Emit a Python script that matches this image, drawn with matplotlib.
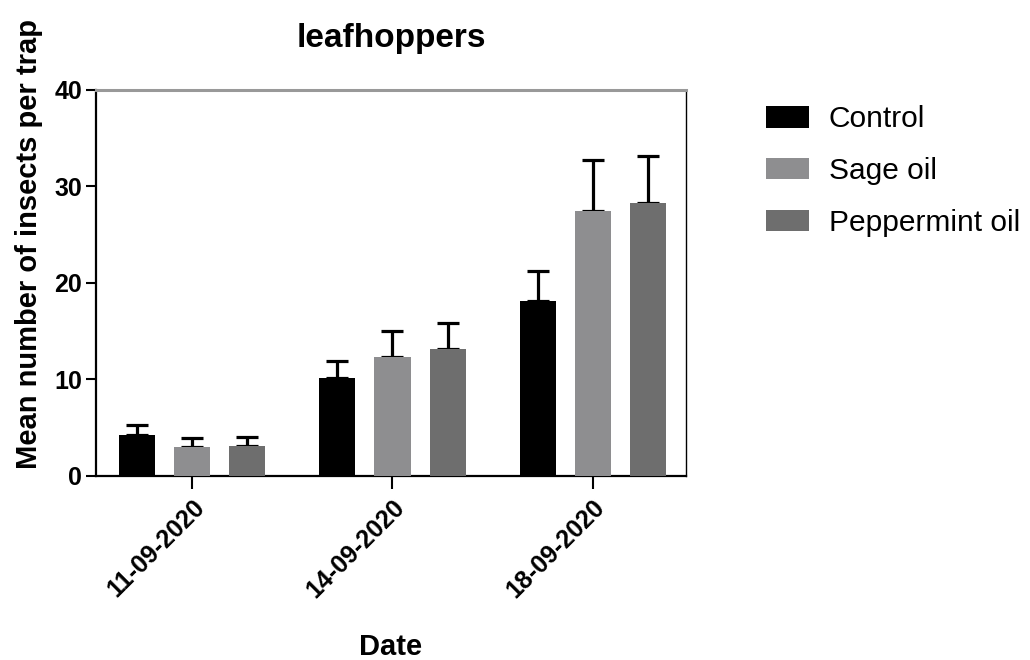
import matplotlib.pyplot as plt
import numpy as np

plt.rcParams['font.family'] = ['Liberation Sans', 'DejaVu Sans']

dates = ["11-09-2020", "14-09-2020", "18-09-2020"]
groups = ["Control", "Sage oil", "Peppermint oil"]
control = [4.2, 10.15, 18.1]
control_err = [1.05, 1.8, 3.1]
sage = [2.95, 12.3, 27.5]
sage_err = [1.0, 2.75, 5.25]
pepper = [3.1, 13.1, 28.3]
pepper_err = [0.95, 2.7, 4.9]
colors = ["#000000", "#8e8e90", "#6e6e6e"]

fig = plt.figure(figsize=(10.3, 6.6), dpi=100)
ax = fig.add_axes([0.0932, 0.279, 0.5728, 0.5848])

x = np.arange(len(dates))
step = 0.275
width = 0.18
series = [(control, control_err), (sage, sage_err), (pepper, pepper_err)]
for i, (vals, errs) in enumerate(series):
    pos = x + (i - 1) * step
    ax.bar(pos, vals, width, color=colors[i], label=groups[i], zorder=3)
    # only the upper half of the error bar shows, the bar hides the rest
    ax.errorbar(pos, vals, yerr=[np.zeros(len(errs)), errs], fmt='none',
                ecolor='black', elinewidth=2.3, capsize=8, capthick=2.3, zorder=2)

ax.set_xlim(-0.48, 2.465)
ax.set_ylim(0, 40)
ax.set_yticks([0, 10, 20, 30, 40])
ax.set_xticks(x)
ax.set_xticklabels(dates, rotation=45, ha='right', rotation_mode='anchor')

for lab in ax.get_xticklabels() + ax.get_yticklabels():
    lab.set_fontweight('bold')
    lab.set_fontsize(18)

ax.tick_params(axis='y', length=7, width=1.5, pad=3)
ax.tick_params(axis='x', length=9, width=1.5, pad=5)

for s in ['left', 'bottom']:
    ax.spines[s].set_linewidth(1.6)
ax.spines['top'].set_color('#999999')
ax.spines['top'].set_linewidth(2.2)
ax.spines['right'].set_linewidth(1.0)

ax.set_ylabel("Mean number of insects per trap", fontsize=21, fontweight='bold')
ax.yaxis.set_label_coords(-0.09, 0.60)
ax.set_xlabel("Date", fontsize=21, fontweight='bold', labelpad=22)
ax.set_title("leafhoppers", fontsize=24, fontweight='bold', pad=31)

ax.legend(loc='upper left', bbox_to_anchor=(1.09, 1.03), frameon=False, fontsize=21.5,
          handlelength=1.45, handleheight=0.74, handletextpad=0.65, labelspacing=0.8)

fig.savefig("out.png", dpi=100)
